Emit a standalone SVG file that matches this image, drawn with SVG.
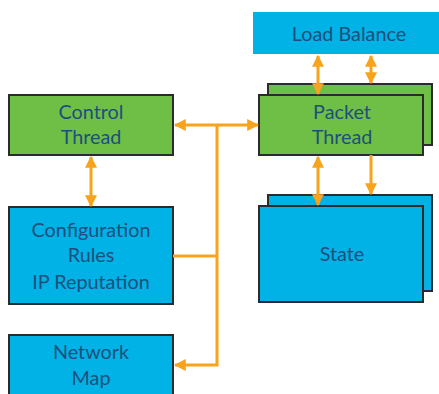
<svg xmlns="http://www.w3.org/2000/svg" width="439" height="394" viewBox="0 0 439 394">
<style>
.g{fill:#6fbf46;stroke:#2b2b2b;stroke-width:2}
.b{fill:#00b2e6;stroke:#2b2b2b;stroke-width:2}
.t{font-family:Lato,"Open Sans",sans-serif;font-size:19.8px;fill:#1d4f7c;text-anchor:middle}
.c{fill:none;stroke:#f7a31c;stroke-width:3}
</style>
<defs>
<marker id="ah" viewBox="0 0 10 10" refX="9" refY="5" markerWidth="4" markerHeight="4" orient="auto-start-reverse" markerUnits="strokeWidth">
<path d="M0,0 L10,5 L0,10 z" fill="#f7a31c"/>
</marker>
</defs>
<rect width="439" height="394" fill="#fff"/>
<g id="load-balance">
<rect x="253" y="12" width="186" height="42" fill="#00b2e6"/>
<text class="t" x="349" y="41">Load Balance</text>
</g>
<g id="control-thread">
<rect class="g" x="9" y="95" width="164" height="60"/>
<text class="t" x="91" y="119">Control</text>
<text class="t" x="91" y="144">Thread</text>
</g>
<g id="packet-thread">
<rect class="g" x="268" y="84" width="164" height="61"/>
<rect class="g" x="259" y="95" width="164" height="60"/>
<text class="t" x="342" y="119">Packet</text>
<text class="t" x="342" y="144">Thread</text>
</g>
<g id="state">
<rect class="b" x="268" y="195" width="164" height="96"/>
<rect class="b" x="259" y="206" width="164" height="96"/>
<text class="t" x="342" y="261">State</text>
</g>
<g id="configuration">
<rect class="b" x="9" y="207" width="164" height="97"/>
<text class="t" x="91" y="237">Configuration</text>
<text class="t" x="91" y="262">Rules</text>
<text class="t" x="91" y="289">IP Reputation</text>
</g>
<g id="network-map">
<rect class="b" x="9" y="335" width="164" height="70"/>
<text class="t" x="91" y="359">Network</text>
<text class="t" x="91" y="385">Map</text>
</g>
<g id="connectors">
<line class="c" x1="318" y1="56" x2="318" y2="94" marker-start="url(#ah)" marker-end="url(#ah)"/>
<line class="c" x1="371" y1="56" x2="371" y2="83" marker-start="url(#ah)" marker-end="url(#ah)"/>
<line class="c" x1="318" y1="157" x2="318" y2="205" marker-start="url(#ah)" marker-end="url(#ah)"/>
<line class="c" x1="371" y1="155" x2="371" y2="194" marker-end="url(#ah)"/>
<line class="c" x1="91" y1="157" x2="91" y2="206" marker-start="url(#ah)" marker-end="url(#ah)"/>
<line class="c" x1="175" y1="125" x2="258" y2="125" marker-start="url(#ah)" marker-end="url(#ah)"/>
<polyline class="c" points="217,125 217,365 175,365" marker-end="url(#ah)"/>
<line class="c" x1="173" y1="256" x2="217" y2="256"/>
</g>
</svg>
